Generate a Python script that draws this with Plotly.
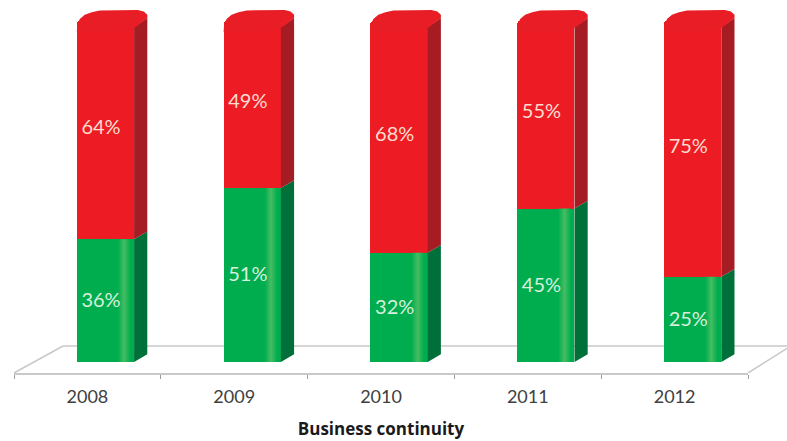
import plotly.graph_objects as go

years = ["2008", "2009", "2010", "2011", "2012"]
green_values = [36, 51, 32, 45, 25]
red_values = [64, 49, 68, 55, 75]

GREEN, GREEN_SIDE, GREEN_SHINE = "#00ad4e", "#006f3a", "#45bd63"
RED, RED_SIDE, RED_TOP = "#ed1c24", "#a51c22", "#e81d25"
FLOOR = "#c9c9c9"

positions = list(range(len(years)))
BAR_SHIFT = 0.123   # bars sit to the right of their labels, on the 3D floor
BAR_WIDTH = 0.39
DEPTH_X = 0.09      # oblique projection of the bar depth
DEPTH_Y = 2.3
TOTAL = 100

fig = go.Figure()
bar_x = [p + BAR_SHIFT for p in positions]


def polygon(xs, ys, color):
    fig.add_trace(go.Scatter(
        x=xs, y=ys, mode="lines", fill="toself", fillcolor=color,
        line=dict(width=0, color=color), hoverinfo="skip",
        showlegend=False, cliponaxis=False))


# Front faces
fig.add_trace(go.Bar(x=bar_x, y=green_values, width=BAR_WIDTH,
                     marker=dict(color=GREEN, line_width=0), showlegend=False))
fig.add_trace(go.Bar(x=bar_x, y=red_values, width=BAR_WIDTH,
                     marker=dict(color=RED, line_width=0), showlegend=False))

# Rounded top outline, as (offset from the front-left corner, height above the stack)
top_dx = [0.0, 0.003, 0.02, 0.054, 0.102, 0.157, 0.415, 0.456, 0.48, 0.48, 0.398, 0.293]
top_dy = [-3.2, -1.2, 0.6, 1.8, 2.6, 3.1, 3.2, 2.8, 1.8, 0.9, -1.8, -3.2]

# Side and top faces, projected from the same values as the fronts
for x, g in zip(bar_x, green_values):
    right = x + BAR_WIDTH / 2
    left = x - BAR_WIDTH / 2
    polygon([right, right + DEPTH_X, right + DEPTH_X, right, right],
            [0, DEPTH_Y, g + DEPTH_Y, g, 0], GREEN_SIDE)
    polygon([right, right + DEPTH_X, right + DEPTH_X, right, right],
            [g, g + DEPTH_Y, TOTAL + 0.9, TOTAL - 1.8, g], RED_SIDE)
    polygon([left + d for d in top_dx], [TOTAL + d for d in top_dy], RED_TOP)
    # Soft vertical shine near the right edge of the green front
    shine_l, shine_r = right - 0.11, right - 0.025
    fig.add_trace(go.Scatter(
        x=[shine_l, shine_r, shine_r, shine_l, shine_l],
        y=[0, 0, g, g, 0], mode="lines", fill="toself",
        line=dict(width=0), hoverinfo="skip", showlegend=False,
        fillgradient=dict(type="horizontal", colorscale=[
            [0, GREEN], [0.5, GREEN_SHINE], [1, GREEN]])))

# Percentage labels
LABEL_FONT = "Lato, Open Sans, sans-serif"
label_x = [x - 0.03 for x in bar_x]
fig.add_trace(go.Scatter(
    x=label_x, y=[g / 2 - 0.4 for g in green_values], mode="text",
    text=[f"{g}%" for g in green_values], showlegend=False, hoverinfo="skip",
    textfont=dict(family=LABEL_FONT, size=20, color="#d6f0dc")))
fig.add_trace(go.Scatter(
    x=label_x, y=[g + r / 2 + 0.4 for g, r in zip(green_values, red_values)],
    mode="text", text=[f"{r}%" for r in red_values], showlegend=False,
    hoverinfo="skip",
    textfont=dict(family=LABEL_FONT, size=20, color="#fddccf")))

# Floor of the chart, drawn beneath the bars; its right corner runs past the plot area
back_y = 4.7
floor_y = -3.23
floor_lines = [
    (0.0668, back_y, 1.053, back_y),
    (0.0, floor_y, 0.0668, back_y),
    (1.0, floor_y, 1.053, back_y - 0.7),
]
shapes = [dict(type="line", xref="paper", yref="y", x0=a, y0=b, x1=c, y1=d,
               layer="below", line=dict(color=FLOOR, width=1.6))
          for a, b, c, d in floor_lines]

fig.update_layout(
    width=787, height=441, autosize=False,
    margin=dict(l=14, r=39, t=0, b=68),
    barmode="stack", barcornerradius=3, paper_bgcolor="white", plot_bgcolor="white",
    showlegend=False, shapes=shapes,
    font=dict(family=LABEL_FONT),
    xaxis=dict(
        range=[-0.5, 4.5], tickmode="array", tickvals=positions,
        ticktext=years, ticks="", showgrid=False, zeroline=False,
        showline=True, linecolor=FLOOR, linewidth=2,
        tickfont=dict(size=18, color="#404040"), ticklabelstandoff=6,
        minor=dict(tickmode="array", tickvals=[p - 0.5 for p in positions] + [4.5],
                   ticks="outside", ticklen=4, tickcolor="#9a9a9a", tickwidth=1, showgrid=False),
        title=dict(text="<b>Business continuity</b>", standoff=18,
                   font=dict(size=17, color="#1a1a1a", family="Open Sans, sans-serif")),
    ),
    yaxis=dict(range=[floor_y, 106.16], visible=False, showgrid=False, zeroline=False),
)

fig.write_html("out.html", config=dict(displayModeBar=False))
